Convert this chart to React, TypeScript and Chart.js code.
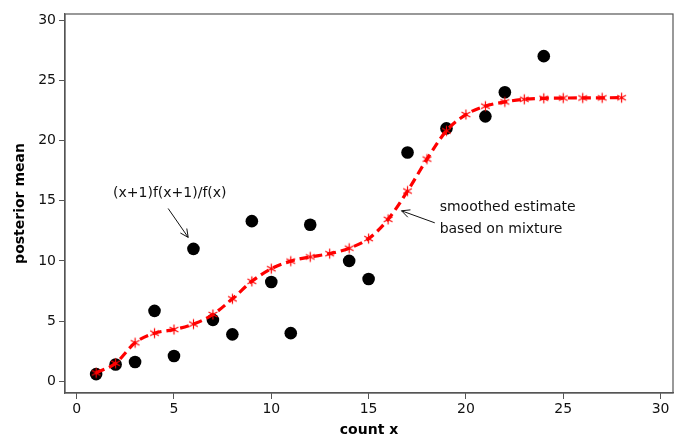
import React, { useEffect, useRef } from "react";
import { Chart, registerables } from "chart.js";

Chart.register(...registerables);

const obsX = [1, 2, 3, 4, 5, 6, 7, 8, 9, 10, 11, 12, 14, 15, 17, 19, 21, 22, 24];
const obsY = [0.6, 1.4, 1.6, 5.85, 2.1, 11.0, 5.1, 3.9, 13.3, 8.25, 4.0, 13.0, 10.0, 8.5, 19.0, 21.0, 22.0, 24.0, 27.0];

const smoothX = [1, 2, 3, 4, 5, 6, 7, 8, 9, 10, 11, 12, 13, 14, 15, 16, 17, 18, 19, 20, 21, 22, 23, 24, 25, 26, 27, 28];
const smoothY = [0.7, 1.5, 3.2, 4.0, 4.3, 4.75, 5.55, 6.85, 8.3, 9.35, 9.98, 10.33, 10.6, 11.05, 11.85, 13.45, 15.8, 18.45, 20.8, 22.15, 22.85, 23.2, 23.42, 23.5, 23.52, 23.53, 23.54, 23.55];

const xTicks = [0, 5, 10, 15, 20, 25, 30];
const yTicks = [0, 5, 10, 15, 20, 25, 30];

const xTitle = "count x";
const yTitle = "posterior mean";

// annotation anchors in data units
const note1Text = ["(x+1)f(x+1)/f(x)"];
const note1Pos = { x: 1.87, y: 15.6 };
const arrow1 = { x1: 4.7, y1: 14.35, x2: 5.73, y2: 11.95 };
const note2Text = ["smoothed estimate", "based on mixture"];
const note2Pos = { x: 18.65, y: 14.44 };
const arrow2 = { x1: 18.4, y1: 13.16, x2: 16.69, y2: 14.16 };

const FONT = "'DejaVu Sans', Verdana, sans-serif";

function makeAsterisk(): HTMLCanvasElement {
  const c = document.createElement("canvas");
  c.width = 13;
  c.height = 13;
  const g = c.getContext("2d")!;
  g.strokeStyle = "#ff0000";
  g.lineWidth = 1.2;
  const cx = 6.5, cy = 6.5, r = 5;
  g.beginPath();
  g.moveTo(cx, cy - r);
  g.lineTo(cx, cy + r);
  const a = r * 0.866;
  g.moveTo(cx - a, cy - r / 2);
  g.lineTo(cx + a, cy + r / 2);
  g.moveTo(cx - a, cy + r / 2);
  g.lineTo(cx + a, cy - r / 2);
  g.stroke();
  return c;
}

function drawArrow(ctx: CanvasRenderingContext2D, x1: number, y1: number, x2: number, y2: number) {
  ctx.save();
  ctx.strokeStyle = "#111";
  ctx.lineWidth = 1;
  ctx.beginPath();
  ctx.moveTo(x1, y1);
  ctx.lineTo(x2, y2);
  const ang = Math.atan2(y2 - y1, x2 - x1);
  const L = 9;
  const s = 0.45;
  ctx.moveTo(x2 - L * Math.cos(ang - s), y2 - L * Math.sin(ang - s));
  ctx.lineTo(x2, y2);
  ctx.lineTo(x2 - L * Math.cos(ang + s), y2 - L * Math.sin(ang + s));
  ctx.stroke();
  ctx.restore();
}

const zeroPad = () => ({ left: 0, right: 0, top: 0, bottom: 0 });

const overlayPlugin = {
  id: "overlay",
  afterDraw(chart: any) {
    const ctx: CanvasRenderingContext2D = chart.ctx;
    const { left, right, top, bottom } = chart.chartArea;
    const xs = chart.scales.x;
    const ys = chart.scales.y;
    ctx.save();
    // frame
    ctx.strokeStyle = "#555";
    ctx.lineWidth = 1.2;
    ctx.strokeRect(left, top, right - left, bottom - top);

    // axis titles
    ctx.fillStyle = "#000";
    ctx.font = `bold 14px ${FONT}`;
    ctx.textAlign = "center";
    ctx.textBaseline = "middle";
    ctx.fillText(xTitle, (left + right) / 2, 430);
    ctx.save();
    ctx.translate(20, (top + bottom) / 2);
    ctx.rotate(-Math.PI / 2);
    ctx.fillText(yTitle, 0, 0);
    ctx.restore();

    // annotations
    ctx.font = `14px ${FONT}`;
    ctx.fillStyle = "#111";
    ctx.textAlign = "left";
    note1Text.forEach((t, i) => {
      ctx.fillText(t, xs.getPixelForValue(note1Pos.x), ys.getPixelForValue(note1Pos.y) + i * 22);
    });
    note2Text.forEach((t, i) => {
      ctx.fillText(t, xs.getPixelForValue(note2Pos.x), ys.getPixelForValue(note2Pos.y) + i * 22);
    });
    drawArrow(ctx, xs.getPixelForValue(arrow1.x1), ys.getPixelForValue(arrow1.y1), xs.getPixelForValue(arrow1.x2), ys.getPixelForValue(arrow1.y2));
    drawArrow(ctx, xs.getPixelForValue(arrow2.x1), ys.getPixelForValue(arrow2.y1), xs.getPixelForValue(arrow2.x2), ys.getPixelForValue(arrow2.y2));
    ctx.restore();
  },
};

export default function App() {
  const ref = useRef<HTMLCanvasElement | null>(null);
  useEffect(() => {
    if (!ref.current) return;
    const star = makeAsterisk();
    const chart = new Chart(ref.current, {
      type: "scatter",
      data: {
        datasets: [
          {
            label: "smoothed",
            data: smoothX.map((x, i) => ({ x, y: smoothY[i] })),
            showLine: true,
            borderColor: "#ff0000",
            borderWidth: 3.2,
            borderDash: [9, 5],
            tension: 0.4,
            cubicInterpolationMode: "monotone",
            pointStyle: star as any,
            pointRadius: 5,
            order: 0,
          } as any,
          {
            label: "observed",
            data: obsX.map((x, i) => ({ x, y: obsY[i] })),
            backgroundColor: "#000",
            borderColor: "#000",
            pointRadius: 6.3,
            pointBorderWidth: 0,
            showLine: false,
            order: 1,
          } as any,
        ],
      },
      options: {
        responsive: false,
        animation: false,
        devicePixelRatio: 1,
        layout: { autoPadding: false, padding: { top: 14, right: 1, left: 0, bottom: 0 } },
        plugins: { legend: { display: false }, tooltip: { enabled: false } },
        scales: {
          x: {
            type: "linear",
            min: -0.6,
            max: 30.64,
            afterBuildTicks: (s: any) => {
              s.ticks = xTicks.map((v) => ({ value: v }));
            },
            afterFit: (s: any) => {
              s.height = 45;
              s.paddingLeft = 0;
              s.paddingRight = 0;
              s.getPadding = zeroPad;
            },
            grid: { drawOnChartArea: false, drawTicks: true, tickLength: 6, color: "#555", lineWidth: 1 },
            border: { display: true, color: "#555", width: 1.2 },
            ticks: { color: "#111", font: { family: FONT, size: 14 }, padding: 2, maxRotation: 0, autoSkip: false },
          },
          y: {
            type: "linear",
            min: -0.97,
            max: 30.5,
            afterBuildTicks: (s: any) => {
              s.ticks = yTicks.map((v) => ({ value: v }));
            },
            afterFit: (s: any) => {
              s.width = 65;
              s.paddingTop = 0;
              s.paddingBottom = 0;
              s.getPadding = zeroPad;
            },
            grid: { drawOnChartArea: false, drawTicks: true, tickLength: 6, color: "#555", lineWidth: 1 },
            border: { display: true, color: "#555", width: 1.2 },
            ticks: { color: "#111", font: { family: FONT, size: 14 }, padding: 3, autoSkip: false },
          },
        },
      } as any,
      plugins: [overlayPlugin],
    });
    return () => chart.destroy();
  }, []);
  return (
    <div style={{ position: "absolute", left: 0, top: 0, width: 674, height: 438, background: "#fff" }}>
      <canvas ref={ref} width={674} height={438} style={{ width: 674, height: 438, display: "block" }} />
    </div>
  );
}
